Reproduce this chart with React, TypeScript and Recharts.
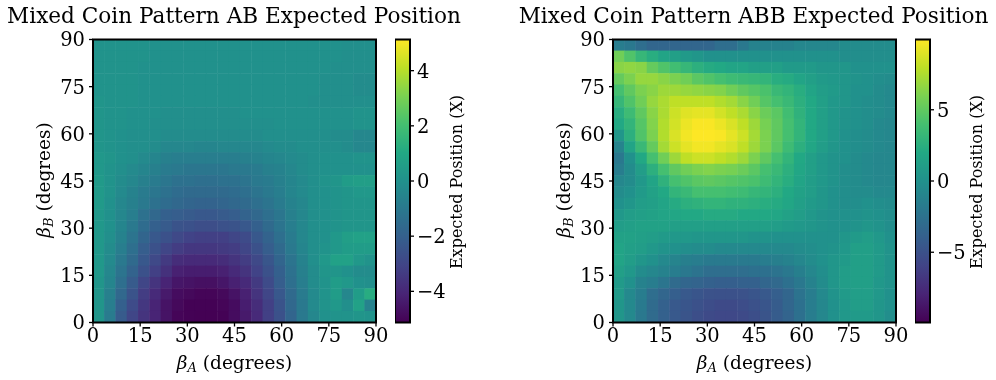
import { Bar, BarChart, Label, ReferenceArea, Scatter, ScatterChart, XAxis, YAxis } from "recharts";

const SERIF = "'DejaVu Serif', serif";
const PLOT = 283;
const TOP = 39.5;
const HEIGHT = 380;
const GRID_STEP = 90 / 25;
const angleTicks = [0, 15, 30, 45, 60, 75, 90];

// rows run top to bottom (beta_B = 90 first), columns left to right
const patternAB = [
  [0.1, 0.1, 0.1, 0.1, 0.1, 0, 0, 0, 0, 0, 0, 0, 0, 0, 0, 0, 0, 0, 0, 0, 0, 0, -0.1, -0.1, -0.1],
  [0.1, 0.1, 0.1, 0.1, 0.1, 0, 0, 0, 0, 0, 0, 0, 0, 0, 0, 0, 0, 0, 0, 0, 0, 0, -0.1, -0.1, -0.1],
  [0.1, 0.1, 0.1, 0.1, 0, 0, 0, 0, 0, 0, 0, 0, 0, 0, 0, 0, 0, 0, 0, 0, 0, -0.1, -0.1, -0.1, -0.1],
  [0.1, 0.1, 0.1, 0.1, 0, 0, 0, 0, 0, 0, 0, 0, 0, 0, 0, 0, 0, 0, 0, 0, -0.1, -0.1, -0.1, -0.2, -0.2],
  [0.1, 0.1, 0.1, 0.1, 0, 0, 0, 0, 0, 0, 0, 0, 0, 0, 0, 0, 0, 0, 0, 0, -0.1, -0.1, -0.1, -0.2, -0.2],
  [0.2, 0.1, 0.1, 0.1, 0, 0, 0, 0, 0, 0, 0, 0, 0, 0, 0, 0, 0, 0, 0, -0.1, -0.1, -0.1, -0.1, -0.1, -0.1],
  [0.2, 0.1, 0.1, 0, 0, 0, -0.1, -0.1, -0.1, -0.1, -0.1, -0.1, -0.1, 0, 0, 0, 0, 0, 0, 0, 0, 0, 0, 0.1, 0.1],
  [0.2, 0.1, 0.1, 0, 0, -0.1, -0.1, -0.1, -0.1, -0.1, -0.1, -0.1, -0.1, -0.1, -0.1, -0.1, 0, 0, 0, 0, 0, 0, 0, 0.1, 0.1],
  [0.2, 0.1, 0, -0.1, -0.1, -0.1, -0.2, -0.2, -0.2, -0.2, -0.2, -0.2, -0.2, -0.2, -0.2, -0.1, -0.1, -0.1, -0.1, -0.1, -0.1, -0.2, -0.2, -0.4, -0.4],
  [0.2, 0.1, 0, -0.1, -0.1, -0.2, -0.4, -0.4, -0.4, -0.5, -0.5, -0.4, -0.4, -0.4, -0.4, -0.3, -0.2, -0.2, -0.1, -0.1, -0.1, -0.1, -0.2, -0.4, -0.4],
  [0.3, 0.2, 0, -0.1, -0.3, -0.5, -0.7, -0.8, -0.8, -0.8, -0.8, -0.8, -0.8, -0.7, -0.6, -0.5, -0.4, -0.3, -0.2, -0.1, 0, 0, 0, 0.1, 0.1],
  [0.3, 0.1, -0.1, -0.3, -0.5, -0.7, -0.9, -1, -1.1, -1.1, -1.1, -1.1, -1, -1, -0.9, -0.7, -0.6, -0.4, -0.2, -0.1, 0, 0, 0, 0, 0],
  [0.4, 0.1, -0.2, -0.4, -0.7, -0.9, -1.1, -1.3, -1.3, -1.4, -1.4, -1.3, -1.3, -1.2, -1, -0.9, -0.7, -0.5, -0.3, -0.1, 0.1, 0.2, 0.5, 0.6, 0.6],
  [0.4, 0.1, -0.3, -0.6, -0.9, -1.1, -1.3, -1.5, -1.6, -1.6, -1.6, -1.6, -1.5, -1.4, -1.2, -1, -0.8, -0.5, -0.3, -0.1, 0, 0.1, 0.2, 0.3, 0.3],
  [0.4, 0, -0.4, -0.7, -1, -1.3, -1.5, -1.7, -1.8, -1.9, -1.9, -1.8, -1.7, -1.6, -1.4, -1.2, -0.9, -0.6, -0.4, -0.1, 0, 0.1, 0.2, 0.2, 0.2],
  [0.3, 0, -0.4, -0.8, -1.3, -1.7, -2, -2.1, -2.2, -2.3, -2.3, -2.2, -2.1, -1.9, -1.7, -1.4, -1.1, -0.7, -0.4, -0.1, 0, 0.1, 0.2, 0.2, 0.2],
  [0.3, 0, -0.5, -1, -1.5, -2, -2.2, -2.5, -2.6, -2.7, -2.7, -2.6, -2.5, -2.3, -2, -1.6, -1.2, -0.8, -0.4, -0.1, 0, 0.1, 0.2, 0.2, 0.2],
  [0.3, -0.1, -0.6, -1.2, -1.8, -2.3, -2.6, -2.9, -3.1, -3.2, -3.2, -3.2, -3, -2.8, -2.3, -1.9, -1.4, -0.9, -0.4, -0.1, 0, 0.3, 0.6, 0.7, 0.7],
  [0.3, -0.2, -0.8, -1.4, -2.1, -2.6, -3, -3.3, -3.5, -3.5, -3.5, -3.4, -3.3, -3, -2.6, -2.1, -1.6, -1, -0.5, -0.1, 0.1, 0.3, 0.5, 0.5, 0.5],
  [0.3, -0.3, -1, -1.6, -2.3, -2.9, -3.4, -3.8, -3.9, -3.9, -3.9, -3.8, -3.6, -3.3, -2.9, -2.4, -1.8, -1.2, -0.6, -0.1, 0.3, 0.7, 0.7, 0.3, 0.1],
  [0.3, -0.4, -1.2, -1.9, -2.6, -3.2, -3.7, -4.2, -4.3, -4.3, -4.3, -4.2, -3.9, -3.6, -3.1, -2.6, -2, -1.3, -0.7, -0.2, 0.2, 0.2, 0, -0.2, -0.2],
  [0.2, -0.5, -1.4, -2.2, -3, -3.6, -4.1, -4.5, -4.6, -4.7, -4.7, -4.5, -4.2, -3.9, -3.4, -2.8, -2.1, -1.4, -0.8, -0.2, 0.1, 0.5, 0.3, 0, -0.1],
  [0.2, -0.7, -1.7, -2.5, -3.3, -3.9, -4.4, -4.8, -4.9, -5, -5, -4.9, -4.6, -4.2, -3.6, -3, -2.3, -1.6, -0.9, -0.3, 0.1, 0.5, -0.4, 0.5, 1.2],
  [0.2, -0.8, -2, -2.8, -3.5, -4.1, -4.6, -4.9, -5.1, -5.1, -5.1, -5, -4.8, -4.3, -3.8, -3.2, -2.5, -1.7, -1, -0.3, 0.1, 0.3, -0.1, 0.7, -0.6],
  [0.2, -0.9, -2.2, -3, -3.6, -4.1, -4.6, -5, -5.1, -5.13, -5.13, -5.1, -4.8, -4.4, -3.9, -3.2, -2.6, -1.8, -1, -0.4, 0, 0.1, 0.1, 0.2, 0.1],
];

const patternABB = [
  [-1.6, -2, -2.8, -3.4, -3.4, -3.4, -3.4, -3.4, -3.4, -2.8, -2.8, -2, -1.2, -1.2, -1.2, -1.2, -0.8, -0.8, -0.8, -0.8, -0.4, -0.4, -0.4, -0.4, -0.4],
  [5.6, 4.4, 3.2, 2.4, 1.6, 1.2, 0.8, 0.4, 0, 0, 0, 0, 0, 0, 0, 0, 0, 0, 0, 0, -0.2, -0.2, -0.2, -0.2, -0.2],
  [6.4, 6.6, 6.4, 5.2, 4.4, 3.8, 3.2, 2.6, 2.2, 2, 1.6, 1.6, 1.2, 1.2, 1.2, 0.8, 0.8, 0.8, 0.4, 0.4, 0.4, 0, 0, 0, 0],
  [5.2, 6, 6.8, 6.8, 6.4, 6, 5.6, 4.8, 4.4, 4, 3.6, 3.4, 3.2, 3, 2.4, 2.2, 1.6, 1.2, 0.8, 0.6, 0.4, 0.2, 0, -0.2, -0.4],
  [4, 5, 6, 6.4, 7, 7, 6.8, 6.6, 6.4, 6.2, 5.6, 5, 4.6, 4.2, 3.4, 3, 2.4, 1.6, 1, 0.8, 0.4, 0, 0, -0.4, -0.6],
  [3.2, 4.4, 5.6, 6.8, 7.4, 8, 8, 8, 8, 7.6, 7.2, 6.4, 5.6, 4.6, 4, 3.4, 2.6, 2, 1.2, 0.6, 0.4, 0, -0.2, -0.4, -0.6],
  [2.4, 3.6, 5, 6.4, 7.4, 8.4, 9, 9.2, 9.2, 8.6, 8, 7.4, 6.4, 5.4, 4.8, 3.8, 2.8, 2, 1.2, 0.6, 0.2, 0, -0.2, -0.4, -0.6],
  [2, 3, 4.6, 6.2, 7.6, 8.6, 9.4, 9.8, 9.8, 9.4, 8.8, 8, 7, 5.8, 5, 4, 3, 2, 1.2, 0.6, 0.2, 0, -0.2, -0.6, -0.8],
  [0.4, 2.6, 4.4, 6, 7.6, 8.8, 9.6, 9.93, 9.93, 9.8, 9.2, 8.4, 7.2, 6, 5, 4, 3, 2, 1.2, 0.6, 0, -0.2, -0.4, -0.6, -0.8],
  [-1, 1.6, 3.4, 5.2, 7.2, 8.4, 9.2, 9.6, 9.6, 9.2, 8.8, 8, 7, 6, 4.8, 3.6, 2.6, 1.8, 1, 0.4, 0, -0.2, -0.4, -0.6, -0.8],
  [-2, 0, 2, 4, 5.6, 7, 8, 8.4, 8.4, 8, 7.6, 7, 6, 5, 4, 3, 2, 1.2, 0.6, 0.2, 0, -0.4, -0.6, -0.8, -0.8],
  [-1.6, -0.4, 1, 2.6, 4, 5, 5.6, 6, 6.2, 6, 5.8, 5.4, 4.8, 4, 3.4, 2.6, 1.8, 1.2, 0.6, 0.2, -0.2, -0.4, -0.6, -0.8, -0.8],
  [-0.8, -0.4, 0.6, 1.6, 2.8, 4, 4.4, 4.8, 5, 4.8, 4.6, 4.4, 4.2, 3.6, 3, 2.4, 1.6, 1, 0.6, 0.2, -0.2, -0.4, -0.6, -0.8, -0.8],
  [-0.4, 0, 0.8, 1.4, 2, 3, 3.4, 4, 4, 4, 3.8, 3.6, 3.2, 3, 2.6, 2, 1.4, 1, 0.4, 0, -0.2, -0.4, -0.4, -0.6, -0.6],
  [0, 0.4, 1, 1.2, 1.6, 2.2, 2.6, 2.8, 3, 3, 2.8, 2.8, 2.6, 2.4, 2.2, 1.8, 1.2, 0.8, 0.4, 0, -0.2, -0.2, 0, -0.2, -0.4],
  [0.6, 1, 1.2, 1.4, 1.6, 1.8, 2, 2, 2.2, 2.2, 2.2, 2, 2, 2, 1.8, 1.4, 1, 0.6, 0.2, 0, 0, 0, 0.2, 0, -0.2],
  [1, 1.2, 1.4, 1.4, 1.4, 1.2, 1.2, 1.2, 1.2, 1.2, 1.2, 1.2, 1.2, 1.2, 1, 0.8, 0.6, 0.4, 0.2, 0, 0, 0.2, 0.4, 0.2, -0.2],
  [1.4, 1.4, 1.2, 1, 0.8, 0.6, 0.6, 0.4, 0.4, 0.4, 0.4, 0.4, 0.2, 0.2, 0, 0, 0, 0, 0, 0, 0.4, 0.8, 1, 0.6, 0],
  [1.6, 1.2, 1, 0.6, 0.2, 0, -0.2, -0.4, -0.4, -0.6, -0.6, -0.6, -0.6, -0.6, -0.6, -0.6, -0.4, -0.2, 0, 0.2, 0.6, 1.2, 1.2, 0.8, 0.2],
  [1.6, 1, 0.4, 0, -0.6, -1, -1.4, -1.6, -1.8, -1.8, -1.8, -1.8, -1.8, -1.6, -1.4, -1.2, -0.8, -0.4, 0, 0.4, 0.8, 1.2, 1.2, 0.8, 0.2],
  [1.2, 0.6, -0.4, -0.8, -1.2, -1.6, -2, -2.4, -2.8, -2.8, -2.8, -2.8, -2.6, -2.6, -2.4, -2, -1.4, -0.8, -0.2, 0.4, 1, 1.2, 1.2, 0.8, 0.2],
  [0.8, 0, -1.2, -1.6, -2.2, -3, -3.4, -3.6, -3.8, -4, -4, -3.8, -3.8, -3.4, -3.2, -2.6, -2, -1.2, -0.4, 0.4, 1, 1.2, 1.2, 0.6, 0.2],
  [0.8, -0.6, -1.6, -2.8, -3.4, -4, -4.4, -4.7, -4.9, -5, -5, -4.9, -4.7, -4.4, -4, -3.4, -2.4, -1.6, -0.6, 0.2, 0.8, 1.1, 1.1, 0.6, 0],
  [0.4, -0.6, -1.8, -3, -3.8, -4.4, -4.7, -5, -5.3, -5.5, -5.5, -5.3, -5, -4.7, -4.2, -3.4, -2.6, -1.6, -0.8, 0, 0.6, 1, 1, 0.4, 0],
  [0.4, -0.6, -2, -3, -3.8, -4.4, -4.8, -5.2, -5.5, -5.7, -5.7, -5.5, -5.2, -4.8, -4.2, -3.6, -2.6, -1.6, -0.8, 0, 0.6, 0.8, 0.8, 0.4, -0.2],
];

const abTicks = [-4, -2, 0, 2, 4];
const abbTicks = [-5, 0, 5];

const viridis = ["#440154", "#482475", "#414487", "#355f8d", "#2a788e", "#21918c", "#22a884", "#44bf70", "#7ad151", "#bddf26", "#fde725"];

const hexToRgb = (hex: string) => [1, 3, 5].map((i) => parseInt(hex.slice(i, i + 2), 16));

function viridisColor(t: number) {
  const pos = Math.min(Math.max(t, 0), 1) * (viridis.length - 1);
  const i = Math.min(Math.floor(pos), viridis.length - 2);
  const a = hexToRgb(viridis[i]);
  const b = hexToRgb(viridis[i + 1]);
  const mix = a.map((v, k) => Math.round(v + (b[k] - v) * (pos - i)));
  return `rgb(${mix.join(",")})`;
}

const toCells = (rows: number[][]) =>
  rows.flatMap((row, r) =>
    row.map((value, c) => ({
      betaA: (c + 0.5) * GRID_STEP,
      betaB: (rows.length - r - 0.5) * GRID_STEP,
      value,
    })),
  );

const tickStyle = { fontFamily: SERIF, fontSize: 19.5, fill: "#000" };

function AxisTitle({ viewBox, sub, vertical }: any) {
  const serif = { fontFamily: SERIF, fill: "#000" };
  const content = [
    <tspan key="b" fontStyle="italic" fontSize={18.5}>β</tspan>,
    <tspan key="s" fontStyle="italic" fontSize={13} dy={3}>{sub}</tspan>,
    <tspan key="d" fontSize={18.5} dy={-3}> (degrees)</tspan>,
  ];
  if (vertical) {
    const y = viewBox.y + viewBox.height / 2 - 1;
    const x = 17;
    return <text x={x} y={y} textAnchor="middle" transform={`rotate(-90 ${x} ${y})`} {...serif}>{content}</text>;
  }
  return <text x={viewBox.x + viewBox.width / 2} y={viewBox.y + 46} textAnchor="middle" {...serif}>{content}</text>;
}

function Heatmap({ rows, left, max, id }: { rows: number[][]; left: number; max: number; id: string }) {
  const cells = toCells(rows);
  const cellSize = PLOT / rows.length;
  const renderCell = (props: any) => (
    <rect
      x={props.cx - cellSize / 2 - 0.25}
      y={props.cy - cellSize / 2 - 0.25}
      width={cellSize + 0.5}
      height={cellSize + 0.5}
      fill={viridisColor((props.payload.value + max) / (2 * max))}
    />
  );
  return (
    <div style={{ position: "absolute", left: left - 60, top: 0 }}>
      <ScatterChart
        width={60 + PLOT + 20}
        height={HEIGHT}
        margin={{ top: TOP, right: 20, bottom: 8, left: 0 }}
        style={{ overflow: "visible" }}
      >
        <XAxis
          type="number"
          dataKey="betaA"
          domain={[0, 90]}
          ticks={angleTicks}
          interval={0}
          height={HEIGHT - TOP - PLOT - 8}
          tick={tickStyle}
          tickSize={4}
          tickMargin={2}
          tickLine={{ stroke: "#000", strokeWidth: 1.3 }}
          axisLine={false}
        >
          <Label content={(p: any) => <AxisTitle viewBox={p.viewBox} sub="A" />} />
        </XAxis>
        <YAxis
          type="number"
          dataKey="betaB"
          domain={[0, 90]}
          ticks={angleTicks}
          interval={0}
          width={60}
          tick={tickStyle}
          tickSize={4}
          tickMargin={4}
          tickLine={{ stroke: "#000", strokeWidth: 1.3 }}
          axisLine={false}
        >
          <Label content={(p: any) => <AxisTitle viewBox={p.viewBox} sub="B" vertical />} />
        </YAxis>
        <Scatter name={id} data={cells} shape={renderCell} isAnimationActive={false} />
        <ReferenceArea x1={0} x2={90} y1={0} y2={90} fill="none" stroke="#000" strokeWidth={2} ifOverflow="visible" zIndex={1000} />
      </ScatterChart>
    </div>
  );
}

function Colorbar({ left, max, ticks, id }: { left: number; max: number; ticks: number[]; id: string }) {
  const span = [{ name: "bar", range: [-max, max] }];
  return (
    <div style={{ position: "absolute", left, top: 0 }}>
      <BarChart
        width={15 + 75}
        height={HEIGHT}
        data={span}
        barCategoryGap={0}
        margin={{ top: TOP, right: 0, bottom: HEIGHT - TOP - PLOT, left: 0 }}
        style={{ overflow: "visible" }}
      >
        <defs>
          <linearGradient id={id} x1="0" y1="1" x2="0" y2="0">
            {viridis.map((c, i) => (
              <stop key={c} offset={i / (viridis.length - 1)} stopColor={c} />
            ))}
          </linearGradient>
        </defs>
        <XAxis dataKey="name" hide />
        <YAxis
          type="number"
          orientation="right"
          domain={[-max, max]}
          ticks={ticks}
          interval={0}
          width={75}
          tick={{ ...tickStyle, textAnchor: "start" }}
          tickFormatter={(v: number) => String(v).replace("-", "\u2212")}
          tickSize={4}
          tickMargin={3}
          tickLine={{ stroke: "#000", strokeWidth: 1.3 }}
          axisLine={false}
        >
          <Label
            content={(p: any) => {
              const x = p.viewBox.x + 52;
              const y = p.viewBox.y + PLOT / 2 + 1;
              return (
                <text x={x} y={y} textAnchor="middle" transform={`rotate(-90 ${x} ${y})`} fontFamily={SERIF} fontSize={16} fill="#000">
                  Expected Position (X)
                </text>
              );
            }}
          />
        </YAxis>
        <Bar dataKey="range" fill={`url(#${id})`} stroke="#000" strokeWidth={2} isAnimationActive={false} />
      </BarChart>
    </div>
  );
}

function Title({ center, text }: { center: number; text: string }) {
  return (
    <div
      style={{
        position: "absolute",
        left: center,
        top: 3,
        transform: "translateX(-50%)",
        whiteSpace: "nowrap",
        fontFamily: SERIF,
        fontSize: 21.6,
        color: "#000",
      }}
    >
      {text}
    </div>
  );
}

export default function App() {
  return (
    <div style={{ position: "absolute", left: 0, top: 0, width: 996, height: HEIGHT, background: "#fff", overflow: "hidden", filter: "blur(0.3px)" }}>
      <Title center={234} text="Mixed Coin Pattern AB Expected Position" />
      <Heatmap rows={patternAB} left={93} max={5.13} id="ab" />
      <Colorbar left={395} max={5.13} ticks={abTicks} id="cbAb" />
      <Title center={753.5} text="Mixed Coin Pattern ABB Expected Position" />
      <Heatmap rows={patternABB} left={613} max={9.93} id="abb" />
      <Colorbar left={914.5} max={9.93} ticks={abbTicks} id="cbAbb" />
    </div>
  );
}
